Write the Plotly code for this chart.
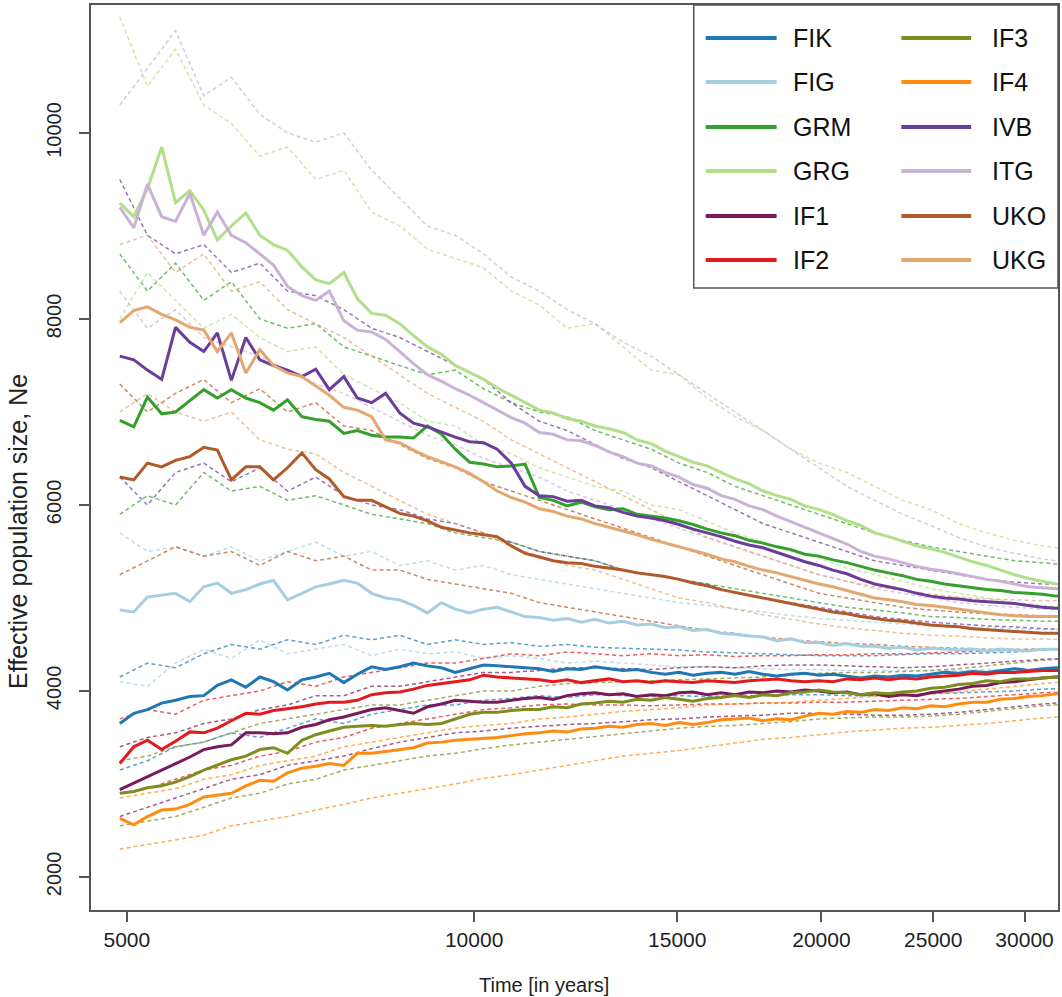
import plotly.graph_objects as go

# Time grid (years) for the mean Ne trajectories
TIME = [4930, 5070, 5210, 5360, 5510, 5670, 5830, 5990, 6160, 6340, 6520, 6700,
        6890, 7090, 7290, 7490, 7710, 7920, 8150, 8380, 8620, 8860, 9110, 9370,
        9630, 9910, 10190, 10470, 10770, 11070, 11390, 11710, 12040, 12380, 12730,
        13090, 13460, 13840, 14240, 14640, 15050, 15480, 15920, 16370, 16830, 17310,
        17800, 18300, 18820, 19350, 19900, 20460, 21040, 21630, 22240, 22870, 23520,
        24190, 24870, 25570, 26300, 27040, 27810, 28590, 29400, 30230, 31090, 31970,
        32870]

# Grid for the confidence bounds
TIME_CI = [4930, 5210, 5510, 5830, 6160, 6520, 6890, 7290, 7710, 8150, 8620, 9110,
           9630, 10190, 10770, 11390, 12040, 12730, 13460, 14240, 15050, 15920,
           16830, 17800, 18820, 19900, 21040, 22240, 23520, 24870, 26300, 27810,
           29400, 31090, 32870]

# Mean effective population size per population
FIK = [3650, 3760, 3800, 3870, 3900, 3940, 3950, 4060, 4120, 4040, 4150, 4100, 4010,
       4120, 4150, 4190, 4090, 4180, 4260, 4230, 4260, 4300, 4270, 4250, 4200, 4240,
       4280, 4270, 4260, 4250, 4240, 4210, 4240, 4230, 4260, 4240, 4220, 4230, 4200,
       4180, 4200, 4170, 4190, 4200, 4180, 4210, 4180, 4160, 4180, 4190, 4170, 4180,
       4160, 4140, 4160, 4150, 4170, 4160, 4180, 4200, 4190, 4210, 4200, 4220, 4240,
       4220, 4240, 4250, 4250]
FIG = [4870, 4850, 5010, 5030, 5050, 4960, 5120, 5160, 5050, 5090, 5150, 5190, 4980,
       5050, 5120, 5150, 5190, 5160, 5050, 5000, 4980, 4920, 4840, 4950, 4880, 4840,
       4880, 4900, 4850, 4800, 4790, 4760, 4780, 4740, 4770, 4730, 4750, 4710, 4720,
       4680, 4690, 4650, 4660, 4620, 4610, 4590, 4580, 4540, 4560, 4520, 4520, 4490,
       4510, 4480, 4480, 4460, 4470, 4440, 4460, 4450, 4440, 4450, 4430, 4450, 4440,
       4430, 4450, 4450, 4450]
GRM = [6910, 6840, 7160, 6980, 7000, 7120, 7240, 7150, 7240, 7150, 7100, 7020, 7130,
       6950, 6920, 6900, 6770, 6800, 6750, 6730, 6730, 6720, 6850, 6760, 6600, 6460,
       6440, 6410, 6420, 6440, 6080, 6050, 5990, 6030, 5980, 5950, 5960, 5900, 5880,
       5860, 5830, 5790, 5740, 5700, 5670, 5620, 5590, 5550, 5520, 5470, 5450, 5410,
       5380, 5340, 5300, 5270, 5240, 5200, 5180, 5150, 5130, 5110, 5090, 5080, 5060,
       5050, 5040, 5020, 5020]
GRG = [9245, 9100, 9400, 9850, 9250, 9380, 9170, 8850, 9000, 9140, 8900, 8800, 8740,
       8560, 8420, 8380, 8500, 8220, 8060, 8040, 7950, 7820, 7700, 7620, 7500, 7420,
       7350, 7260, 7180, 7100, 7020, 6990, 6930, 6900, 6850, 6820, 6780, 6700, 6660,
       6580, 6520, 6460, 6420, 6350, 6280, 6230, 6150, 6100, 6060, 5990, 5950, 5900,
       5830, 5780, 5700, 5660, 5610, 5560, 5530, 5490, 5440, 5390, 5350, 5300, 5250,
       5210, 5180, 5150, 5140]
IF1 = [2940, 3010, 3080, 3150, 3220, 3290, 3370, 3400, 3420, 3550, 3550, 3540, 3550,
       3610, 3640, 3690, 3720, 3760, 3800, 3820, 3790, 3760, 3830, 3860, 3900, 3890,
       3880, 3880, 3900, 3920, 3930, 3910, 3950, 3970, 3980, 3960, 3970, 3940, 3960,
       3950, 3980, 3990, 3960, 3980, 3960, 3990, 3980, 4000, 3990, 4010, 4000, 3980,
       3990, 3960, 3970, 3940, 3960, 3950, 3980, 4000, 4020, 4050, 4060, 4090, 4100,
       4120, 4140, 4150, 4150]
IF2 = [3220, 3400, 3470, 3370, 3460, 3560, 3550, 3600, 3680, 3760, 3750, 3790, 3810,
       3830, 3860, 3880, 3880, 3900, 3960, 3980, 3990, 4020, 4060, 4080, 4100, 4120,
       4170, 4150, 4140, 4130, 4120, 4100, 4120, 4090, 4110, 4130, 4100, 4110, 4090,
       4110, 4100, 4090, 4110, 4100, 4090, 4110, 4120, 4130, 4110, 4100, 4110, 4100,
       4130, 4120, 4140, 4120, 4140, 4130, 4150, 4160, 4170, 4190, 4180, 4200, 4200,
       4210, 4220, 4220, 4220]
IF3 = [2900, 2920, 2960, 2980, 3020, 3080, 3150, 3200, 3260, 3300, 3370, 3390, 3330,
       3470, 3530, 3570, 3610, 3620, 3630, 3620, 3640, 3650, 3640, 3650, 3700, 3750,
       3770, 3770, 3790, 3800, 3800, 3830, 3820, 3860, 3870, 3890, 3880, 3910, 3900,
       3930, 3910, 3890, 3920, 3930, 3950, 3930, 3960, 3950, 3980, 3990, 4010, 3990,
       3980, 3960, 3980, 3970, 3990, 4000, 4030, 4040, 4070, 4080, 4110, 4100, 4130,
       4130, 4140, 4150, 4150]
IF4 = [2630, 2560, 2650, 2720, 2730, 2780, 2860, 2880, 2900, 2980, 3040, 3030, 3120,
       3170, 3190, 3220, 3200, 3330, 3330, 3350, 3370, 3390, 3440, 3450, 3470, 3480,
       3490, 3500, 3520, 3540, 3550, 3570, 3560, 3590, 3600, 3620, 3610, 3640, 3650,
       3630, 3660, 3640, 3660, 3690, 3700, 3710, 3680, 3700, 3690, 3730, 3760, 3750,
       3780, 3770, 3800, 3790, 3820, 3810, 3840, 3830, 3860, 3880, 3880, 3910, 3920,
       3940, 3950, 3970, 3970]
IVB = [7600, 7560, 7450, 7350, 7910, 7750, 7650, 7850, 7340, 7800, 7560, 7500, 7450,
       7380, 7460, 7240, 7380, 7150, 7100, 7200, 6990, 6880, 6840, 6780, 6730, 6680,
       6670, 6600, 6450, 6200, 6100, 6090, 6040, 6050, 5990, 5970, 5920, 5880, 5860,
       5830, 5790, 5740, 5700, 5660, 5610, 5570, 5540, 5490, 5440, 5390, 5350, 5300,
       5260, 5200, 5150, 5120, 5090, 5050, 5020, 5000, 4990, 4970, 4960, 4950, 4940,
       4920, 4900, 4890, 4890]
ITG = [9200, 8980, 9450, 9100, 9050, 9350, 8900, 9150, 8900, 8820, 8700, 8580, 8350,
       8250, 8200, 8300, 7980, 7880, 7860, 7780, 7650, 7520, 7400, 7330, 7250, 7180,
       7100, 7020, 6940, 6880, 6780, 6760, 6700, 6690, 6640, 6570, 6520, 6450, 6420,
       6350, 6300, 6220, 6180, 6100, 6060, 5990, 5950, 5880, 5820, 5760, 5700, 5640,
       5580, 5500, 5450, 5420, 5380, 5340, 5310, 5290, 5260, 5230, 5200, 5180, 5150,
       5120, 5110, 5100, 5100]
UKO = [6300, 6270, 6450, 6410, 6480, 6520, 6620, 6590, 6270, 6410, 6410, 6270, 6400,
       6560, 6380, 6280, 6090, 6050, 6050, 5980, 5910, 5880, 5830, 5760, 5730, 5700,
       5680, 5660, 5560, 5480, 5440, 5400, 5380, 5370, 5340, 5320, 5300, 5270, 5250,
       5230, 5200, 5160, 5130, 5090, 5060, 5030, 5000, 4970, 4940, 4910, 4880, 4850,
       4830, 4800, 4780, 4760, 4750, 4730, 4710, 4700, 4690, 4670, 4660, 4650, 4640,
       4630, 4620, 4620, 4620]
UKG = [7960, 8090, 8130, 8050, 7990, 7910, 7880, 7650, 7850, 7420, 7670, 7500, 7420,
       7380, 7280, 7180, 7050, 7020, 6950, 6700, 6670, 6590, 6520, 6460, 6410, 6340,
       6250, 6150, 6080, 6030, 5960, 5930, 5880, 5850, 5800, 5760, 5720, 5680, 5630,
       5590, 5550, 5510, 5470, 5420, 5390, 5340, 5300, 5270, 5230, 5190, 5150, 5120,
       5080, 5040, 5000, 4980, 4960, 4930, 4920, 4900, 4880, 4860, 4840, 4820, 4810,
       4800, 4800, 4800, 4800]

# Upper / lower confidence bounds
FIK_HI = [4150, 4300, 4250, 4400, 4500, 4450, 4550, 4500, 4600, 4550, 4600, 4500,
          4550, 4500, 4520, 4480, 4500, 4470, 4460, 4450, 4440, 4420, 4410, 4400,
          4390, 4380, 4380, 4380, 4390, 4400, 4400, 4410, 4420, 4440, 4450]
FIK_LO = [3150, 3250, 3400, 3450, 3550, 3500, 3600, 3700, 3650, 3750, 3800, 3850,
          3850, 3900, 3920, 3950, 3930, 3960, 3950, 3940, 3950, 3940, 3950, 3950,
          3960, 3960, 3950, 3950, 3960, 3970, 3980, 3990, 4000, 4020, 4030]
FIG_HI = [5700, 5500, 5550, 5450, 5550, 5400, 5500, 5600, 5450, 5500, 5350, 5400,
          5300, 5350, 5250, 5200, 5150, 5100, 5050, 5000, 4950, 4920, 4880, 4850,
          4810, 4780, 4760, 4740, 4720, 4700, 4690, 4680, 4670, 4660, 4660]
FIG_LO = [4100, 4050, 4300, 4450, 4350, 4550, 4400, 4450, 4500, 4380, 4450, 4400,
          4420, 4350, 4380, 4350, 4300, 4320, 4300, 4280, 4260, 4260, 4250, 4240,
          4230, 4230, 4220, 4220, 4220, 4220, 4220, 4230, 4230, 4230, 4240]
GRM_HI = [8700, 8300, 8600, 8200, 8400, 8000, 7900, 7950, 7700, 7600, 7500, 7400,
          7450, 7250, 7100, 7000, 6950, 6800, 6700, 6600, 6450, 6350, 6200, 6100,
          6000, 5900, 5800, 5700, 5620, 5550, 5500, 5450, 5400, 5380, 5350]
GRM_LO = [5900, 6100, 6000, 6350, 6150, 6200, 6050, 6100, 6000, 5900, 5850, 5800,
          5700, 5650, 5600, 5500, 5450, 5400, 5300, 5250, 5200, 5150, 5100, 5050,
          5000, 4950, 4900, 4870, 4840, 4800, 4790, 4770, 4760, 4750, 4750]
GRG_HI = [11250, 10500, 10900, 10300, 10100, 9750, 9850, 9500, 9600, 9150, 9000, 8750,
          8650, 8550, 8300, 8150, 7900, 7950, 7700, 7450, 7400, 7150, 6950, 6800,
          6600, 6450, 6350, 6200, 6050, 5950, 5800, 5700, 5620, 5560, 5520]
GRG_LO = [8000, 8500, 8200, 7900, 8050, 7800, 7650, 7700, 7400, 7250, 7100, 6900,
          6850, 6650, 6550, 6400, 6300, 6200, 6150, 6000, 5950, 5820, 5700, 5600,
          5500, 5430, 5320, 5250, 5180, 5100, 5050, 5000, 4950, 4920, 4900]
IF1_HI = [3400, 3500, 3550, 3650, 3700, 3800, 3850, 3950, 3950, 4050, 4050, 4100,
          4150, 4200, 4200, 4220, 4250, 4250, 4240, 4230, 4250, 4260, 4250, 4270,
          4280, 4280, 4270, 4260, 4250, 4260, 4280, 4300, 4320, 4340, 4350]
IF1_LO = [2650, 2750, 2850, 2950, 3050, 3100, 3200, 3250, 3300, 3380, 3450, 3500,
          3550, 3570, 3600, 3620, 3640, 3650, 3670, 3690, 3700, 3720, 3730, 3740,
          3760, 3760, 3750, 3740, 3740, 3750, 3770, 3800, 3830, 3860, 3880]
IF2_HI = [3700, 3800, 3750, 3900, 3950, 4000, 4100, 4050, 4150, 4200, 4250, 4300,
          4300, 4350, 4400, 4380, 4420, 4400, 4380, 4400, 4380, 4390, 4370, 4380,
          4380, 4390, 4390, 4400, 4400, 4410, 4420, 4430, 4440, 4450, 4450]
IF2_LO = [2900, 2950, 3050, 3150, 3200, 3300, 3350, 3450, 3500, 3600, 3650, 3700,
          3750, 3800, 3820, 3850, 3860, 3850, 3850, 3840, 3850, 3860, 3860, 3870,
          3870, 3880, 3880, 3890, 3900, 3910, 3920, 3940, 3960, 3980, 3990]
IF3_HI = [3250, 3300, 3400, 3450, 3550, 3650, 3700, 3750, 3800, 3850, 3850, 3900,
          3950, 4000, 4000, 4050, 4080, 4090, 4100, 4110, 4120, 4130, 4140, 4150,
          4170, 4190, 4200, 4200, 4210, 4220, 4240, 4270, 4300, 4330, 4350]
IF3_LO = [2550, 2600, 2650, 2750, 2850, 2900, 3000, 3050, 3150, 3200, 3250, 3300,
          3330, 3380, 3420, 3450, 3480, 3510, 3540, 3570, 3600, 3620, 3630, 3650,
          3670, 3700, 3710, 3720, 3720, 3730, 3750, 3780, 3810, 3840, 3860]
IF4_HI = [2850, 2900, 2950, 3050, 3100, 3200, 3250, 3300, 3400, 3450, 3500, 3550,
          3600, 3630, 3650, 3700, 3720, 3750, 3780, 3800, 3820, 3850, 3860, 3870,
          3880, 3900, 3920, 3940, 3960, 3970, 3990, 4020, 4050, 4080, 4100]
IF4_LO = [2300, 2350, 2400, 2450, 2550, 2600, 2650, 2720, 2780, 2850, 2900, 2950,
          3000, 3060, 3100, 3150, 3200, 3250, 3300, 3330, 3360, 3400, 3440, 3480,
          3500, 3530, 3560, 3580, 3600, 3610, 3630, 3650, 3680, 3710, 3730]
IVB_HI = [9500, 8900, 8700, 8800, 8500, 8600, 8300, 8250, 8100, 7900, 7800, 7650,
          7500, 7350, 7100, 6900, 6800, 6650, 6500, 6400, 6250, 6100, 5950, 5800,
          5700, 5600, 5500, 5400, 5350, 5300, 5250, 5200, 5170, 5150, 5150]
IVB_LO = [6300, 6000, 6350, 6450, 6250, 6400, 6150, 6300, 6100, 6000, 5950, 5850,
          5800, 5700, 5600, 5500, 5450, 5400, 5300, 5250, 5200, 5150, 5050, 5000,
          4950, 4900, 4850, 4800, 4770, 4740, 4720, 4700, 4690, 4670, 4660]
ITG_HI = [10300, 10700, 11100, 10400, 10600, 10200, 10000, 9900, 10000, 9600, 9300,
          9000, 8900, 8700, 8450, 8300, 8100, 7950, 7750, 7600, 7400, 7200, 7000,
          6800, 6600, 6400, 6200, 6050, 5900, 5780, 5650, 5550, 5480, 5420, 5380]
ITG_LO = [8300, 7900, 8100, 7800, 7700, 7600, 7450, 7300, 7200, 7050, 6900, 6750,
          6650, 6500, 6400, 6300, 6150, 6050, 5950, 5850, 5750, 5650, 5550, 5450,
          5350, 5250, 5180, 5100, 5050, 5000, 4950, 4920, 4900, 4880, 4870]
UKO_HI = [7300, 7000, 7200, 7350, 7100, 7250, 7000, 7100, 6850, 6800, 6650, 6500,
          6400, 6250, 6150, 6050, 5950, 5850, 5750, 5650, 5550, 5450, 5350, 5250,
          5150, 5050, 5000, 4950, 4900, 4870, 4850, 4830, 4820, 4810, 4800]
UKO_LO = [5250, 5400, 5550, 5450, 5500, 5350, 5500, 5400, 5450, 5300, 5300, 5200,
          5150, 5100, 5050, 4950, 4900, 4850, 4800, 4750, 4700, 4650, 4620, 4580,
          4550, 4530, 4510, 4500, 4480, 4470, 4460, 4450, 4450, 4450, 4450]
UKG_HI = [8800, 8900, 8500, 8700, 8300, 8400, 8100, 7950, 7800, 7600, 7400, 7200,
          7050, 6900, 6700, 6550, 6400, 6250, 6100, 5950, 5800, 5650, 5550, 5450,
          5350, 5250, 5180, 5120, 5080, 5040, 5010, 4990, 4980, 4970, 4970]
UKG_LO = [7000, 7200, 7000, 6900, 7000, 6700, 6600, 6550, 6350, 6200, 6050, 5900,
          5800, 5700, 5550, 5450, 5350, 5300, 5200, 5100, 5000, 4950, 4880, 4820,
          4770, 4720, 4680, 4650, 4620, 4600, 4590, 4570, 4560, 4560, 4550]

NAMES = ["FIK", "FIG", "GRM", "GRG", "IF1", "IF2",
         "IF3", "IF4", "IVB", "ITG", "UKO", "UKG"]
COLORS = ["#1f78b4", "#a6cee3", "#33a02c", "#b2df8a", "#7a1a5a", "#e31a1c",
          "#7f8c1e", "#ff8c10", "#6a3d9a", "#cab2d6", "#b15928", "#e3a870"]

X_TICKS = [5000, 10000, 15000, 20000, 25000, 30000]
Y_TICKS = [2000, 4000, 6000, 8000, 10000]

MEANS = [FIK, FIG, GRM, GRG, IF1, IF2, IF3, IF4, IVB, ITG, UKO, UKG]
HIS = [FIK_HI, FIG_HI, GRM_HI, GRG_HI, IF1_HI, IF2_HI,
       IF3_HI, IF4_HI, IVB_HI, ITG_HI, UKO_HI, UKG_HI]
LOS = [FIK_LO, FIG_LO, GRM_LO, GRG_LO, IF1_LO, IF2_LO,
       IF3_LO, IF4_LO, IVB_LO, ITG_LO, UKO_LO, UKG_LO]

for m in MEANS:
    assert len(m) == len(TIME)
for b in HIS + LOS:
    assert len(b) == len(TIME_CI)

FONT = "Liberation Sans, Arial, sans-serif"
INK = "#222222"
AXIS = "#555555"

fig = go.Figure()

# dashed confidence bounds underneath
for name, color, hi, lo in zip(NAMES, COLORS, HIS, LOS):
    for bound in (hi, lo):
        fig.add_trace(go.Scatter(
            x=TIME_CI, y=bound, mode="lines", showlegend=False, hoverinfo="skip",
            line=dict(color=color, width=1.5, dash="4px,3px"), opacity=0.7))

# mean trajectories
for name, color, mean in zip(NAMES, COLORS, MEANS):
    fig.add_trace(go.Scatter(
        x=TIME, y=mean, mode="lines", name=name, showlegend=False,
        line=dict(color=color, width=3)))

# two-column legend drawn in paper space
row_y = [0.9635, 0.9149, 0.8652, 0.8166, 0.7669, 0.7182]
col_line = [(0.6357, 0.7090), (0.8380, 0.9102)]
col_text = [0.7234, 0.9298]
shapes = [dict(type="rect", xref="paper", yref="paper", x0=0.6233, x1=1.0,
               y0=0.6873, y1=1.0, line=dict(color=AXIS, width=1.5),
               fillcolor="white", layer="above")]
annotations = []
for i, (name, color) in enumerate(zip(NAMES, COLORS)):
    c, r = divmod(i, 6)
    shapes.append(dict(type="line", xref="paper", yref="paper",
                       x0=col_line[c][0], x1=col_line[c][1], y0=row_y[r], y1=row_y[r],
                       line=dict(color=color, width=4), layer="above"))
    annotations.append(dict(xref="paper", yref="paper", x=col_text[c], y=row_y[r],
                            text=name, showarrow=False, xanchor="left", yanchor="middle",
                            font=dict(family=FONT, size=25, color="#111111")))

# axis titles
annotations.append(dict(xref="paper", yref="paper", x=0.4685, y=-0.0829,
                        text="Time [in years]", showarrow=False,
                        xanchor="center", yanchor="middle",
                        font=dict(family=FONT, size=20, color=INK)))
annotations.append(dict(xref="paper", yref="paper", x=-0.0753, y=0.418,
                        text="Effective population size, Ne", showarrow=False,
                        textangle=-90, xanchor="center", yanchor="middle",
                        font=dict(family=FONT, size=25, color=INK)))

fig.update_layout(
    width=1062, height=997,
    margin=dict(l=91, r=2, t=5, b=87),
    paper_bgcolor="white", plot_bgcolor="white",
    font=dict(family=FONT, color=INK),
    shapes=shapes, annotations=annotations,
    showlegend=False,
)
fig.update_xaxes(
    type="log", range=[3.6679, 4.5061],
    tickvals=X_TICKS, ticktext=[str(v) for v in X_TICKS],
    ticks="outside", ticklen=10, tickwidth=1.5, tickcolor=AXIS,
    showline=True, linecolor=AXIS, linewidth=1.5, mirror=True,
    showgrid=False, zeroline=False,
    tickfont=dict(size=21, family=FONT, color=INK),
)
fig.update_yaxes(
    range=[1645, 11376],
    tickvals=Y_TICKS, ticktext=[str(v) for v in Y_TICKS],
    ticks="outside", ticklen=10, tickwidth=1.5, tickcolor=AXIS,
    showline=True, linecolor=AXIS, linewidth=1.5, mirror=True,
    showgrid=False, zeroline=False, tickangle=-90, ticklabelstandoff=10,
    tickfont=dict(size=20, family=FONT, color=INK),
)

fig.write_html("out.html")
